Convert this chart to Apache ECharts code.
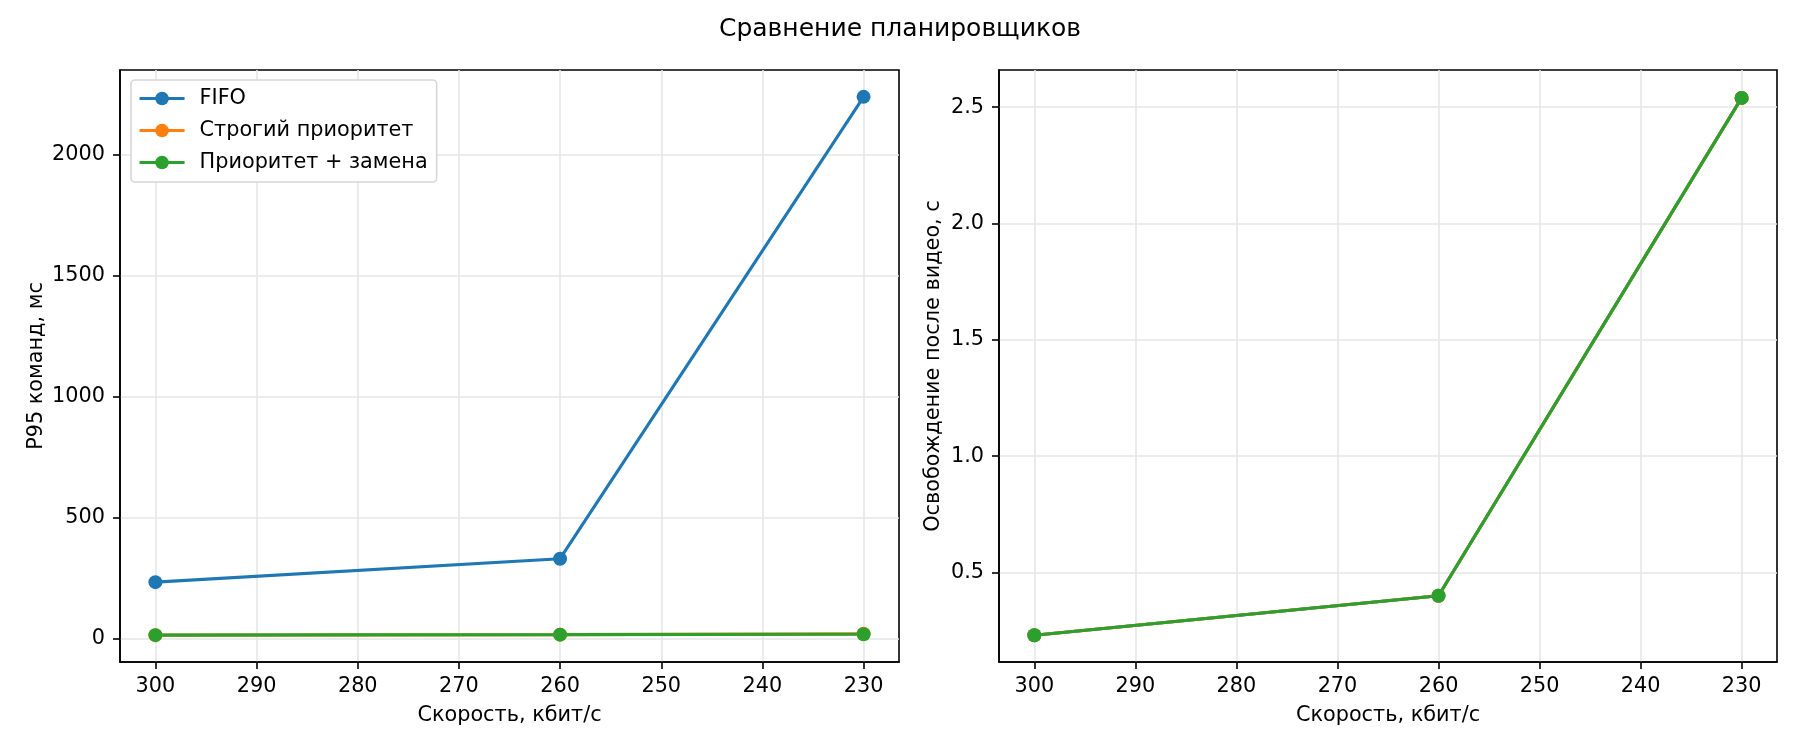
<!DOCTYPE html>
<html>
<head>
<meta charset="utf-8">
<script src="https://cdn.jsdelivr.net/npm/echarts@6/dist/echarts.min.js"></script>
<style>
html,body{margin:0;padding:0;background:#fff;}
#chart{width:1800px;height:750px;}
</style>
</head>
<body>
<div id="chart"></div>
<script>
const titleText = 'Сравнение планировщиков';
const seriesNames = ['FIFO', 'Строгий приоритет', 'Приоритет + замена'];
const colors = ['#1f77b4', '#ff7f0e', '#2ca02c'];
const speeds = [300, 260, 230];
const fifoP95 = [233, 330, 2239];
const strictP95 = [14, 16, 20];
const replaceP95 = [14, 16, 18];
const fifoRelease = [0.23, 0.40, 2.54];
const strictRelease = [0.23, 0.40, 2.54];
const replaceRelease = [0.23, 0.40, 2.54];
const xTicks = [300, 290, 280, 270, 260, 250, 240, 230];
const leftYTicks = [0, 500, 1000, 1500, 2000];
const rightYTicks = [0.5, 1.0, 1.5, 2.0, 2.5];
const xName = 'Скорость, кбит/с';
const leftYName = 'P95 команд, мс';
const rightYName = 'Освобождение после видео, с';

const FONT = 'DejaVu Sans';
const FS = 20.8;
const pair = (vals) => speeds.map((s, i) => [s, vals[i]]);

function xAxis(gridIndex) {
  return {
    type: 'value', gridIndex, min: 226.5, max: 303.5, inverse: true,
    name: xName, nameLocation: 'middle', nameGap: 43,
    nameTextStyle: {fontFamily: FONT, fontSize: FS, color: '#000'},
    axisLine: {show: true, onZero: false, lineStyle: {color: '#000', width: 1.6}},
    axisTick: {show: true, inside: false, length: 7, customValues: xTicks, lineStyle: {color: '#000', width: 1.6}},
    axisLabel: {show: true, margin: 14, customValues: xTicks, fontFamily: FONT, fontSize: FS, color: '#000'},
    splitLine: {show: true, lineStyle: {color: '#e6e6e6', width: 1.6}}
  };
}
function yAxis(gridIndex, min, max, ticks, name, gap, fmt) {
  return {
    type: 'value', gridIndex, min, max,
    name, nameLocation: 'middle', nameGap: gap, nameRotate: 90,
    nameTextStyle: {fontFamily: FONT, fontSize: FS, color: '#000'},
    axisLine: {show: true, onZero: false, lineStyle: {color: '#000', width: 1.6}},
    axisTick: {show: true, inside: false, length: 7, customValues: ticks, lineStyle: {color: '#000', width: 1.6}},
    axisLabel: {show: true, margin: 15, customValues: ticks, fontFamily: FONT, fontSize: FS, color: '#000', formatter: fmt},
    splitLine: {show: true, lineStyle: {color: '#e6e6e6', width: 1.6}}
  };
}
function lineSeries(name, data, color, axisIndex) {
  return {
    type: 'line', name, data, xAxisIndex: axisIndex, yAxisIndex: axisIndex,
    symbol: 'circle', symbolSize: 14, showSymbol: true,
    lineStyle: {color, width: 3.1}, itemStyle: {color},
    emphasis: {disabled: true}, animation: false
  };
}

const chart = echarts.init(document.getElementById('chart'));
chart.setOption({
  backgroundColor: '#fff',
  animation: false,
  title: {text: titleText, left: 'center', top: 12,
    textStyle: {fontFamily: FONT, fontSize: 25, fontWeight: 'normal', color: '#000'}},
  legend: {
    data: seriesNames, orient: 'vertical', left: 131, top: 80,
    padding: [8, 9, 9, 7], itemGap: 11, itemWidth: 45, itemHeight: 17,
    backgroundColor: '#fff', borderColor: '#d6d6d6', borderWidth: 1.6, borderRadius: 4,
    lineStyle: {width: 3.1},
    textStyle: {fontFamily: FONT, fontSize: FS, color: '#000', padding: [0, 0, 0, 10]}
  },
  grid: [
    {left: 120, right: 901, top: 70, bottom: 88, show: true, borderColor: '#000', borderWidth: 1.6, backgroundColor: 'transparent'},
    {left: 999, right: 23, top: 70, bottom: 88, show: true, borderColor: '#000', borderWidth: 1.6, backgroundColor: 'transparent'}
  ],
  xAxis: [xAxis(0), xAxis(1)],
  yAxis: [
    yAxis(0, -97, 2350, leftYTicks, leftYName, 73, v => String(v)),
    yAxis(1, 0.115, 2.66, rightYTicks, rightYName, 55, v => Number(v).toFixed(1))
  ],
  series: [
    lineSeries(seriesNames[0], pair(fifoP95), colors[0], 0),
    lineSeries(seriesNames[1], pair(strictP95), colors[1], 0),
    lineSeries(seriesNames[2], pair(replaceP95), colors[2], 0),
    lineSeries(seriesNames[0], pair(fifoRelease), colors[0], 1),
    lineSeries(seriesNames[1], pair(strictRelease), colors[1], 1),
    lineSeries(seriesNames[2], pair(replaceRelease), colors[2], 1)
  ]
});
</script>
</body>
</html>
